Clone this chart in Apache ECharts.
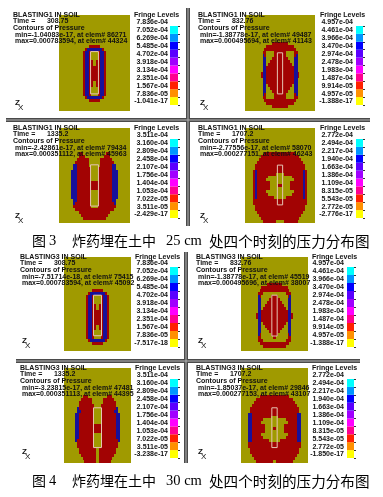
<!DOCTYPE html>
<html><head><meta charset="utf-8">
<style>html,body{margin:0;padding:0;background:#fff}#c{width:383px;height:497px;filter:blur(0.3px)}</style>
<script src="https://cdn.jsdelivr.net/npm/echarts@6/dist/echarts.min.js"></script>
</head><body><div id="c"></div>
<script>
// Fringe colours, top band first
const fringeColors=['#00ffff','#0096ff','#0000ff','#5a00ff','#a000ff','#ff00ff','#ff0090','#ff2000','#ff9000','#ffff00'];
const bandSteps=[1,1,1,1,1,1,1,1,1,1];
const zoneColors={R:'#a20303',B:'#17109a'};

const titles=['BLASTING1 IN SOIL','BLASTING1 IN SOIL','BLASTING1 IN SOIL','BLASTING1 IN SOIL','BLASTING3 IN SOIL','BLASTING3 IN SOIL','BLASTING3 IN SOIL','BLASTING3 IN SOIL'];
const times=['308.75','832.76','1335.2','1707.2','308.75','832.76','1335.2','1707.2'];
const minLines=['min=-1.04083e-17, at elem# 86271','min=-1.38778e-17, at elem# 49487','min=-2.42861e-17, at elem# 79434','min=-2.77556e-17, at elem# 58070','min=-7.51714e-18, at elem# 75415','min=-1.38778e-17, at elem# 45519','min=-3.23815e-17, at elem# 47481','min=-1.85037e-17, at elem# 29846'];
const maxLines=['max=0.000783594, at elem# 44324','max=0.000495694, at elem# 41143','max=0.000351112, at elem# 45963','max=0.000277151, at elem# 46243','max=0.000783594, at elem# 45092','max=0.000495696, at elem# 38007','max=0.000351113, at elem# 44395','max=0.000277153, at elem# 43107'];

const labels1=['7.836e-04','7.052e-04','6.269e-04','5.485e-04','4.702e-04','3.918e-04','3.134e-04','2.351e-04','1.567e-04','7.836e-05','-1.041e-17'];
const labels2=['4.957e-04','4.461e-04','3.966e-04','3.470e-04','2.974e-04','2.478e-04','1.983e-04','1.487e-04','9.914e-05','4.957e-05','-1.388e-17'];
const labels3=['3.511e-04','3.160e-04','2.809e-04','2.458e-04','2.107e-04','1.756e-04','1.404e-04','1.053e-04','7.022e-05','3.511e-05','-2.429e-17'];
const labels4=['2.772e-04','2.494e-04','2.217e-04','1.940e-04','1.663e-04','1.386e-04','1.109e-04','8.315e-05','5.543e-05','2.772e-05','-2.776e-17'];
const labels5=['7.836e-04','7.052e-04','6.269e-04','5.485e-04','4.702e-04','3.918e-04','3.134e-04','2.351e-04','1.567e-04','7.836e-05','-7.517e-18'];
const labels6=['4.957e-04','4.461e-04','3.966e-04','3.470e-04','2.974e-04','2.478e-04','1.983e-04','1.487e-04','9.914e-05','4.957e-05','-1.388e-17'];
const labels7=['3.511e-04','3.160e-04','2.809e-04','2.458e-04','2.107e-04','1.756e-04','1.404e-04','1.053e-04','7.022e-05','3.511e-05','-3.238e-17'];
const labels8=['2.772e-04','2.494e-04','2.217e-04','1.940e-04','1.663e-04','1.386e-04','1.109e-04','8.315e-05','5.543e-05','2.772e-05','-1.850e-17'];

// Contour zones, one string per mesh row from the top, half section from the axis outwards
const field1=['','','','','','','','','','','RRR','BBBBR','..RBBR','..RBBR','..RBBR','.RRBBR','.RRBBR','RRRBBR','RRRBBR','RRRBBR','RRRBBR','RRRBBR','.RRBBR','.RRBBR','..RBBR','..RBBR','..RBBR','BBBBR','RRR','','',''];
const field2=['','','','','','','','','','RRRR','RRRRRRR','RRRRRRRR','RRR....RR','RRR....RB','RRRR...BB','RRRRR..BB','RRRRRR.BB','RRRRRRRBB','RRRRRRRBB','RRRRRRRBBR','RRRRRRRBBR','RRRRRRRBB','RRRRRRRBB','RRRRRR.BB','RRRRR..BB','RRRR...BB','RRR....RB','RRR....RR','RRRRRRRR','RRRRRRR','RRRR',''];
const field3=['','','','','','','','','......RR','.....RRR','...RRRRRR','...RRRRRRR','...RRRRRRBB','..RRRRRRRBB','..RRRRRRRBBB','..RRRRRRRBBB','..RRRRRRRBBB','..RRRRRRRBBB','RRRRRRRRRBBB','RRRRRRRRRBBB','RRRRRRRRRBBB','..RRRRRRRBBB','..RRRRRRRBBB','..RRRRRRRBBB','..RRRRRRRBB','..RRRRRRRRB','..RRRRRRRRR','RRRRRRRRRR','RRRRRRRR','RRRRRRR','RRRRRR',''];
const field4=['','','','','','','','','RRRRRRRR','RRRRRRRRRR','RRRRRRRRRRR','RRRRRRRRRRRR','RRRRRRRRRRRRR','RRRRRRRRRRRRR','RRRRRRRRRRRRBR','..RRRRRRRRRRBR','......RRRRRRBR','.......RRRRRBR','.....RRRRRRRBR','R....RRRRRRRBR','.....RRRRRRRBR','.......RRRRRBR','......RRRRRRBR','...RRRRRRRRRBR','RRRRRRRRRRRRRR','RRRRRRRRRRRRRR','RRRRRRRRRRRRR','RRRRRRRRRRRRR','RRRRRRRRRRRR','RRRRRRRRRRR','RRRRRRRRRR','..RRRRRRR'];
const field5=['','','','','','','','','','','','RRR','BBBBR','..RBBR','..RBBR','..RBBR','.RRBBR','.RRBBR','RRRBBR','RRRBBR','RRRBBR','RRRBBR','RRRBBR','.RRBBR','.RRBBR','..RBBR','..RBBR','..RBBR','BBBBR','RRR','',''];
const field6=['','','','','','','','','','RRRR','RRRRRRR','RRRRRRRR','......RRR','RR.....RB','RRR....BB','RRRR...BB','RRRRR..BB','RRRRRR.BB','RRRRRRRBB','RRRRRRRBBR','RRRRRRRBBR','RRRRRRRBB','RRRRRR.BB','RRRRR..BB','RRRR...BB','RRR....BB','RR.....RB','R......RR','......RRR','RRRRRRRR','RRRRRR',''];
const field7=['','','','','','','','','','.....RRR','...RRRRRR','...RRRRRRR','..RRRRRRRR','..RRRRRRRRB','..RRRRRRRBB','..RRRRRRRRBB','..RRRRRRRRBB','..RRRRRRRRBB','..RRRRRRRRBB','RRRRRRRRRRBB','RRRRRRRRRRBB','RRRRRRRRRRBB','..RRRRRRRRBB','..RRRRRRRRBB','..RRRRRRRRRB','..RRRRRRRRR','..RRRRRRRRR','.RRRRRRRRR','.RRRRRRRRR','.RRRRRRRR','.RRRRRRR','.RRRRRR'];
const field8=['','','','','','','','','','RRRRRRRR','RRRRRRRRRR','RRRRRRRRRRR','RRRRRRRRRRRR','RRRRRRRRRRRRR','RRRRRRRRRRRRR','RRRRRRRRRRRRBB','..RRRRRRRRRRBB','......RRRRRRBB','.......RRRRRBB','.....RRRRRRRBB','R....RRRRRRRBB','.....RRRRRRRBB','.......RRRRRBB','......RRRRRRBB','...RRRRRRRRRBB','RRRRRRRRRRRRRR','RRRRRRRRRRRRRR','RRRRRRRRRRRRR','RRRRRRRRRRRRR','RRRRRRRRRRRR','RRRRRRRRRRR','.RRRRRRRRR'];

// Charge outline in mesh units: half width, top row, bottom row
const charge1=[2,12.2,26.3], charge2=[1.35,12.6,26.3], charge3=[2,12.4,26.3], charge4=[1.35,12.5,25.9];
const charge5=[2.15,13,26.8], charge6=[1.43,13,26.9], charge7=[2.15,13.4,26.8], charge8=[1.43,13.4,26.8];

const fields=[field1,field2,field3,field4,field5,field6,field7,field8];
const charges=[charge1,charge2,charge3,charge4,charge5,charge6,charge7,charge8];
const fringeLabels=[labels1,labels2,labels3,labels4,labels5,labels6,labels7,labels8];

// Page layout of each panel
const plotBoxes=[[59,15,71,96],[245,15,70,96],[59,128,71,95],[245,128,70,95],[64,257,67,94],[241,257,67,94],[64,368,67,95],[241,368,67,95]];
const barBoxes=[[170,26,8,79],[356,26,7,79],[170,139,8,79],[356,139,7,79],[170,267,8,80],[347,267,7,80],[170,379,8,79],[347,379,7,79]];
const textOrigins=[[13,15],[198,15],[13,128],[198,128],[20,257],[196,257],[20,368],[196,368]];
const fringeHeads=[134,320,134,320,135,312,135,312];
const lineOffsets=[0,6,13.4,19.7,26];

const grid=[],xAxis=[],yAxis=[],series=[],graphic=[];
const txtFont='bold 7px "Liberation Sans",Arial,sans-serif';
function addText(x,y,t,font,fill){graphic.push({type:'text',x,y,z:100,silent:true,style:{text:t,font:font||txtFont,fill:fill||'#111',textVerticalAlign:'middle',textAlign:'left'}});}

fields.forEach((rows,p)=>{
  const b=plotBoxes[p];
  grid.push({left:b[0],top:b[1],width:b[2],height:b[3],show:true,backgroundColor:'#a09a00',borderWidth:0,containLabel:false});
  xAxis.push({type:'value',gridIndex:grid.length-1,min:-18,max:18,show:false});
  yAxis.push({type:'value',gridIndex:grid.length-1,min:0,max:32,inverse:true,show:false});
  const cells=[];
  rows.forEach((s,r)=>{[...s].forEach((ch,k)=>{if(ch!=='.'){cells.push([k,r,ch]);cells.push([-k-1,r,ch]);}});});
  const ax=xAxis.length-1;
  series.push({type:'custom',xAxisIndex:ax,yAxisIndex:ax,data:cells,silent:true,animation:false,clip:true,
    encode:{x:0,y:1},
    renderItem:(params,api)=>{
      const c=api.value(0),r=api.value(1),z=cells[params.dataIndex][2];
      const a=api.coord([c,r]),d=api.coord([c+1,r+1]);
      const x0=Math.round(a[0]),x1=Math.round(d[0]),y0=Math.round(a[1]),y1=Math.round(d[1]);
      return {type:'rect',shape:{x:x0,y:y0,width:x1-x0,height:y1-y0},style:{fill:zoneColors[z]}};
    }});
  const o=charges[p];
  series.push({type:'line',xAxisIndex:ax,yAxisIndex:ax,silent:true,animation:false,symbol:'none',
    lineStyle:{color:'#e6c4b4',width:1},
    data:[[-o[0],o[1]],[o[0],o[1]],[o[0],o[2]],[-o[0],o[2]],[-o[0],o[1]]]});
});

fringeLabels.forEach((lab,p)=>{
  const b=barBoxes[p];
  grid.push({left:b[0],top:b[1],width:b[2],height:b[3],containLabel:false});
  const g=grid.length-1;
  xAxis.push({type:'category',gridIndex:g,data:['fringe'],show:false});
  yAxis.push({type:'value',gridIndex:g,position:'right',min:0,max:10,interval:1,
    axisLine:{show:false},splitLine:{show:false},
    axisTick:{show:true,length:2,lineStyle:{color:'#333',width:1}},
    axisLabel:{show:true,inside:true,margin:10,align:'right',verticalAlign:'bottom',showMinLabel:true,showMaxLabel:true,
      lineHeight:7,color:'#111',fontSize:7,fontWeight:'bold',fontFamily:'"Liberation Sans",Arial,sans-serif',
      formatter:v=>lab[10-v]}});
  for(let i=fringeColors.length-1;i>=0;i--){
    series.push({type:'bar',xAxisIndex:g,yAxisIndex:g,stack:'f'+p,barWidth:'100%',silent:true,animation:false,
      itemStyle:{color:fringeColors[i]},data:[bandSteps[i]]});
  }
});

const sepDark='#4a4a4a',sepLight='#b4b4b4';
function bar(x,y,w,h,horizontal){
  graphic.push({type:'rect',z:50,silent:true,shape:{x,y,width:w,height:h},style:{fill:sepDark}});
  if(horizontal) graphic.push({type:'rect',z:51,silent:true,shape:{x,y:y+1.5,width:w,height:h-3},style:{fill:sepLight}});
  else graphic.push({type:'rect',z:51,silent:true,shape:{x:x+1.5,y,width:w-3,height:h},style:{fill:sepLight}});
}
bar(6,118,364,4,true);
bar(186,8,4,218,false);
bar(16,359,344,4,true);
bar(184,252,4,211,false);

titles.forEach((t,p)=>{
  const o=textOrigins[p];
  addText(o[0],o[1]+lineOffsets[0],t);
  addText(o[0],o[1]+lineOffsets[1],'Time =      '+times[p]);
  addText(o[0],o[1]+lineOffsets[2],'Contours of Pressure');
  addText(o[0]+2,o[1]+lineOffsets[3],minLines[p]);
  addText(o[0]+2,o[1]+lineOffsets[4],maxLines[p]);
  addText(fringeHeads[p],o[1],'Fringe Levels');
  // axis triad
  const tri=p>3?84:88;
  addText(o[0]+2,o[1]+tri,'Z','bold 8px "Liberation Sans",sans-serif');
  addText(o[0]+5,o[1]+tri+5,'X','8px "Liberation Sans",sans-serif');
});

const cjk='14px "Noto Sans CJK SC",sans-serif', cjkB='14.6px "Noto Sans CJK SC",sans-serif', latin='14.5px "Liberation Serif",serif';
[['3','25',241],['4','30',481]].forEach(c=>{
  addText(32,c[2],'图',cjk,'#000');
  addText(49,c[2],c[0],latin,'#000');
  addText(72,c[2],'炸药埋在土中',cjk,'#000');
  addText(166,c[2],c[1]+' cm',latin,'#000');
  addText(209,c[2],'处四个时刻的压力分布图',cjkB,'#000');
});

const chart=echarts.init(document.getElementById('c'),null,{renderer:'canvas'});
chart.setOption({animation:false,backgroundColor:'#fff',grid,xAxis,yAxis,series,graphic});
</script></body></html>
